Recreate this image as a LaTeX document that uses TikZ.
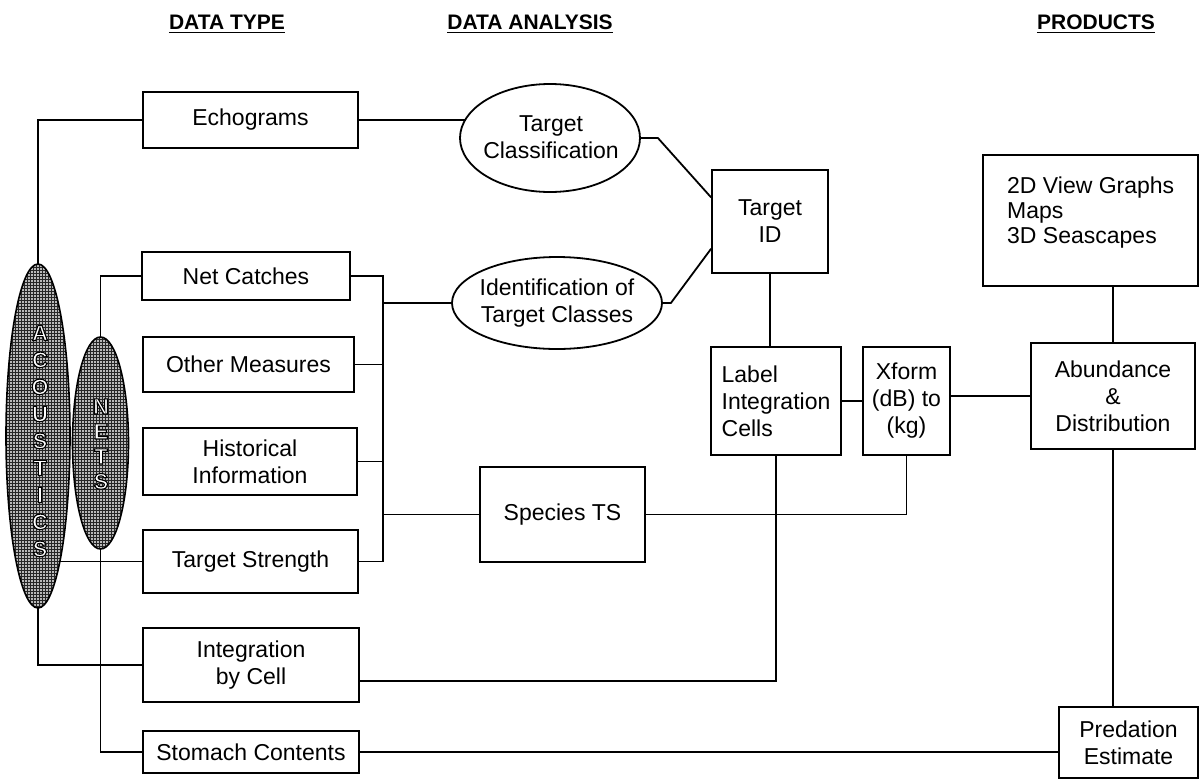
\documentclass[tikz,border=0pt]{standalone}
\usepackage{fontspec}
\setmainfont{Liberation Sans}
\usetikzlibrary{shapes.geometric,patterns,calc}
\pgfdeclarelayer{wires}
\pgfsetlayers{wires,main}
% white letters with a black stroked outline (PDF text render mode 2)
\newcommand\hollowon{\special{pdf:literal direct 2 Tr 0 G 1.1 w}}
\newcommand\hollowoff{\special{pdf:literal direct 0 Tr}}

\begin{document}
\begin{tikzpicture}[x=1pt,y=-1pt,
  every node/.style={font=\fontsize{23}{27}\selectfont},
  box/.style={draw, line width=1.8pt, fill=white, rectangle, align=center, inner sep=2pt},
  oval/.style={draw, line width=1.8pt, fill=white, ellipse, inner sep=0pt},
  band/.style={draw, line width=1.6pt, ellipse, inner sep=0pt,
    preaction={fill=gray!55}, pattern=grid, pattern color=black!85},
  bandtext/.style={text=white, align=center, inner sep=0pt, font=\bfseries\fontsize{22}{27}\selectfont},
  wire/.style={line width=1.8pt},
  head/.style={font=\bfseries\fontsize{21}{25}\selectfont, inner sep=0pt, anchor=base},
  rule/.style={line width=1.7pt},
]
\useasboundingbox (0,0) rectangle (1200,780);

% column headings
\node[head] (h1) at (227,29.5) {DATA TYPE};
\node[head] (h2) at (530,29.5) {DATA ANALYSIS};
\node[head] (h3) at (1096,29.5) {PRODUCTS};
\foreach \h in {h1,h2,h3}
  \draw[rule] ([yshift=-3pt]\h.base west) -- ([yshift=-3pt]\h.base east);

% data sources
\node[band, minimum width=64, minimum height=344] (acou) at (38,436) {};
\node[bandtext] (acout) at (40,441) {\hollowon A\\C\\O\\U\\S\\T\\I\\C\\S\hollowoff};
\node[band, minimum width=56, minimum height=212] (nets) at (100.5,443) {};
\node[bandtext, font=\bfseries\fontsize{22}{25}\selectfont] (netst) at (101,444) {\hollowon N\\E\\T\\S\hollowoff};

% data type column
\node[box, minimum width=215, minimum height=56] (echo) at (250.5,120) {Echograms};
\node[box, minimum width=208, minimum height=48] (netc) at (246,276) {Net Catches};
\node[box, minimum width=211, minimum height=55] (omeas) at (248.5,364.5) {Other Measures};
\node[box, minimum width=214, minimum height=67] (hist) at (250,461.5) {Historical\\Information};
\node[box, minimum width=215, minimum height=63] (ts) at (250.5,561.5) {Target Strength};
\node[box, minimum width=216, minimum height=74] (intg) at (251,665) {Integration\\by Cell};
\node[box, minimum width=216, minimum height=42] (stom) at (251,752) {Stomach Contents};

% data analysis column
\node[oval, minimum width=180, minimum height=108] (tclass) at (550,138) {};
\node[align=center, inner sep=0pt] (tclasst) at (551,137) {Target\\Classification};
\node[oval, minimum width=210, minimum height=92] (ident) at (557,303) {};
\node[align=center, inner sep=0pt] (identt) at (557,303) {Identification of\\Target Classes};
\node[box, minimum width=165, minimum height=95] (spts) at (562.5,514.5) {Species TS};
\node[box, minimum width=116, minimum height=103] (tid) at (770,221.5) {Target\\ID};
\node[box, minimum width=130, minimum height=108, align=left] (label) at (776,401) {Label\\Integration\\Cells};
\node[box, minimum width=87, minimum height=108] (xform) at (906.5,401) {Xform\\(dB) to\\(kg)};

% products column
\node[box, minimum width=215, minimum height=131] (views) at (1090.5,220.5) {};
\node[align=left, anchor=west, inner sep=0pt, font=\fontsize{23}{25}\selectfont] (viewst) at (1007,213) {2D View Graphs\\Maps\\3D Seascapes};
\node[box, minimum width=164, minimum height=106] (abund) at (1113,396) {Abundance\\\&\\Distribution};
\node[box, minimum width=139, minimum height=71] (pred) at (1128.5,742.5) {Predation\\Estimate};

\coordinate (bus) at (383,0);

\begin{pgfonlayer}{wires}
  % from the sources
  \draw[wire] (acou.center) |- (echo.west);
  \draw[wire] (ts.west) -- (ts.west -| acou.center);
  \draw[wire] (acou.center) |- (intg.west);
  \draw[wire] (nets.center) |- (netc.west);
  \draw[wire] (nets.center) |- (stom.west);
  % collecting bus
  \draw[wire] (netc.east) -- (netc.east -| bus) -- (ts.east -| bus) -- (ts.east);
  \draw[wire] (omeas.east) -- (omeas.east -| bus);
  \draw[wire] (hist.east) -- (hist.east -| bus);
  \draw[wire] (ident.west) -- (ident.west -| bus);
  \draw[wire] (spts.west) -- (spts.west -| bus);
  % analysis chain
  \draw[wire] (echo.east) -- (echo.east -| tclass.center);
  \draw[wire] (tclass.east) -- ++(17,0) -- ($(tid.north west)!0.27!(tid.south west)$);
  \draw[wire] (ident.east) -- ++(8,0) -- ($(tid.north west)!0.76!(tid.south west)$);
  \draw[wire] (tid.south) -- (tid.south |- label.north);
  \draw[wire] (label.east) -- (label.east -| xform.west);
  \draw[wire] (label.south) |- ($(intg.east)+(0,16)$);
  \draw[wire] (spts.east) -| (xform.south);
  \draw[wire] (abund.west) -- (abund.west -| xform.east);
  % products
  \draw[wire] (abund.north) -- (abund.north |- views.south);
  \draw[wire] (abund.south) -- (abund.south |- pred.north);
  \draw[wire] (stom.east) -- (stom.east -| pred.west);
\end{pgfonlayer}
\end{tikzpicture}
\end{document}
